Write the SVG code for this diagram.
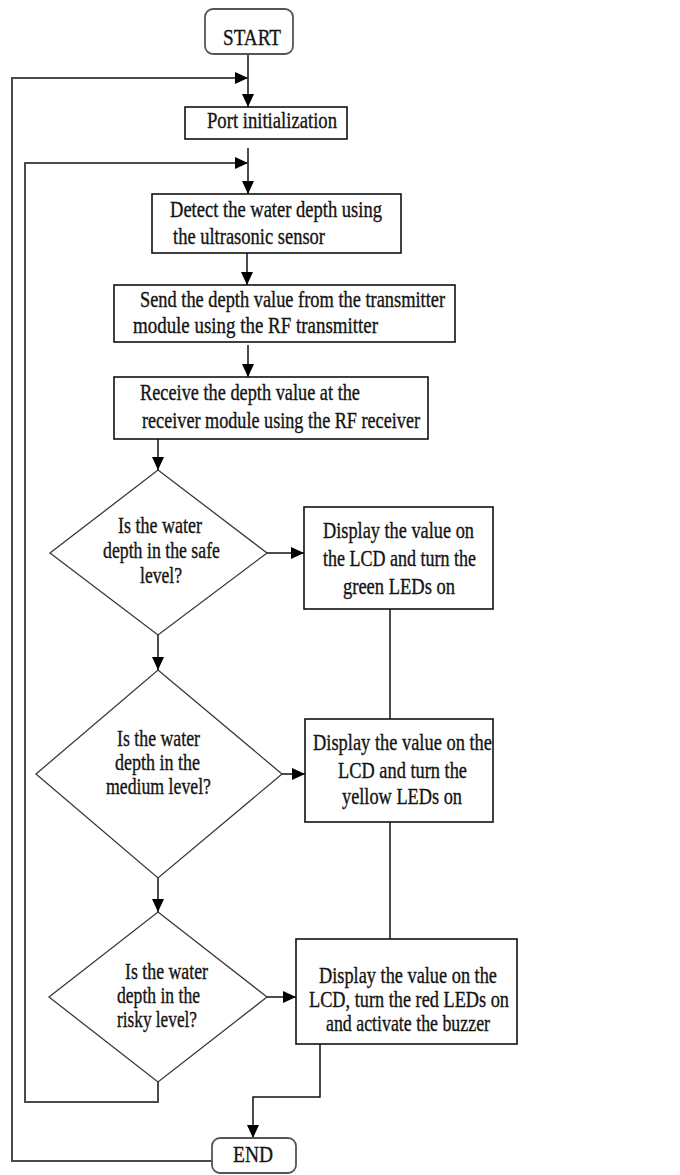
<svg xmlns="http://www.w3.org/2000/svg" width="680" height="1175" viewBox="0 0 680 1175">
  <style>
    .box { fill: #ffffff; stroke: #111111; stroke-width: 1.6; }
    .term { fill: #ffffff; stroke: #555555; stroke-width: 1.8; }
    .dec { fill: #ffffff; stroke: #3a3a3a; stroke-width: 1.3; }
    .lbl { font-family: "Liberation Serif", "Times New Roman", serif; font-size: 23px; fill: #141414; stroke: #141414; stroke-width: 0.35; }
    .flow { fill: none; stroke: #111111; stroke-width: 1.5; }
    .loop { fill: none; stroke: #4a4a4a; stroke-width: 2; }
  </style>
  <defs>
    <marker id="arrow" markerUnits="userSpaceOnUse" markerWidth="14" markerHeight="12" refX="13" refY="6" orient="auto">
      <path d="M0,0 L13,6 L0,12 z" fill="#000000"/>
    </marker>
  </defs>

  <!-- connectors -->
  <g id="connectors">
    <line class="flow" x1="248" y1="54" x2="248" y2="107" marker-end="url(#arrow)"/>
    <polyline class="loop" points="212,1161 12,1161 12,78 248,78" marker-end="url(#arrow)"/>
    <line class="flow" x1="248" y1="148" x2="248" y2="194" marker-end="url(#arrow)"/>
    <polyline class="loop" points="158,1082 158,1102 25,1102 25,163 248,163" marker-end="url(#arrow)"/>
    <line class="flow" x1="247" y1="253" x2="247" y2="285" marker-end="url(#arrow)"/>
    <line class="flow" x1="248" y1="345" x2="248" y2="377" marker-end="url(#arrow)"/>
    <line class="flow" x1="158" y1="439" x2="158" y2="470" marker-end="url(#arrow)"/>
    <line class="flow" x1="267" y1="553" x2="304" y2="553" marker-end="url(#arrow)"/>
    <line class="flow" x1="158" y1="635" x2="158" y2="670" marker-end="url(#arrow)"/>
    <line class="flow" x1="282" y1="774" x2="305" y2="774" marker-end="url(#arrow)"/>
    <line class="flow" x1="158" y1="878" x2="158" y2="912" marker-end="url(#arrow)"/>
    <line class="flow" x1="267" y1="997" x2="296" y2="997" marker-end="url(#arrow)"/>
    <line class="flow" x1="390" y1="609" x2="390" y2="719"/>
    <line class="flow" x1="390" y1="822" x2="390" y2="939"/>
    <polyline class="flow" points="320,1044 320,1097 253,1097 253,1138" marker-end="url(#arrow)"/>
  </g>

  <g id="start">
    <rect class="term" x="205" y="9" width="88" height="45" rx="8"/>
    <text class="lbl" x="223" y="45" textLength="58" lengthAdjust="spacingAndGlyphs">START</text>
  </g>

  <g id="port-init">
    <rect class="box" x="185" y="107" width="162" height="32"/>
    <text class="lbl" x="207" y="128" textLength="130" lengthAdjust="spacingAndGlyphs">Port  initialization</text>
  </g>

  <g id="detect">
    <rect class="box" x="152" y="194" width="249" height="59"/>
    <text class="lbl" x="170" y="217" textLength="212" lengthAdjust="spacingAndGlyphs">Detect the water depth using</text>
    <text class="lbl" x="173" y="244" textLength="152" lengthAdjust="spacingAndGlyphs">the ultrasonic sensor</text>
  </g>

  <g id="send">
    <rect class="box" x="114" y="285" width="341" height="57"/>
    <text class="lbl" x="140" y="307" textLength="305" lengthAdjust="spacingAndGlyphs">Send the depth value from the  transmitter</text>
    <text class="lbl" x="133" y="333" textLength="245" lengthAdjust="spacingAndGlyphs">module using the RF   transmitter</text>
  </g>

  <g id="receive">
    <rect class="box" x="114" y="377" width="314" height="62"/>
    <text class="lbl" x="140" y="400" textLength="220" lengthAdjust="spacingAndGlyphs">Receive the depth value at the</text>
    <text class="lbl" x="142" y="428" textLength="278" lengthAdjust="spacingAndGlyphs">receiver module using the RF receiver</text>
  </g>

  <g id="check-safe">
    <polygon class="dec" points="158,470 267,553 158,635 50,553"/>
    <text class="lbl" x="118" y="533" textLength="84" lengthAdjust="spacingAndGlyphs">Is the water</text>
    <text class="lbl" x="103" y="558" textLength="117" lengthAdjust="spacingAndGlyphs">depth in the safe</text>
    <text class="lbl" x="140" y="583" textLength="42" lengthAdjust="spacingAndGlyphs">level?</text>
  </g>

  <g id="show-green">
    <rect class="box" x="304" y="507" width="189" height="102"/>
    <text class="lbl" x="323" y="538" textLength="151" lengthAdjust="spacingAndGlyphs">Display the value on</text>
    <text class="lbl" x="323" y="566" textLength="153" lengthAdjust="spacingAndGlyphs">the LCD and turn the</text>
    <text class="lbl" x="343" y="594" textLength="112" lengthAdjust="spacingAndGlyphs">green LEDs on</text>
  </g>

  <g id="check-medium">
    <polygon class="dec" points="158,670 282,774 158,878 36,774"/>
    <text class="lbl" x="117" y="746" textLength="83" lengthAdjust="spacingAndGlyphs">Is the water</text>
    <text class="lbl" x="115" y="770" textLength="85" lengthAdjust="spacingAndGlyphs">depth in the</text>
    <text class="lbl" x="106" y="794" textLength="105" lengthAdjust="spacingAndGlyphs">medium level?</text>
  </g>

  <g id="show-yellow">
    <rect class="box" x="305" y="719" width="188" height="103"/>
    <text class="lbl" x="313" y="750" textLength="179" lengthAdjust="spacingAndGlyphs">Display the value on the</text>
    <text class="lbl" x="338" y="778" textLength="129" lengthAdjust="spacingAndGlyphs">LCD and turn the</text>
    <text class="lbl" x="342" y="804" textLength="120" lengthAdjust="spacingAndGlyphs">yellow LEDs on</text>
  </g>

  <g id="check-risky">
    <polygon class="dec" points="158,912 267,997 158,1082 49,997"/>
    <text class="lbl" x="125" y="979" textLength="83" lengthAdjust="spacingAndGlyphs">Is the water</text>
    <text class="lbl" x="117" y="1003" textLength="83" lengthAdjust="spacingAndGlyphs">depth in the</text>
    <text class="lbl" x="117" y="1027" textLength="80" lengthAdjust="spacingAndGlyphs">risky level?</text>
  </g>

  <g id="show-red">
    <rect class="box" x="296" y="939" width="221" height="105"/>
    <text class="lbl" x="319" y="983" textLength="178" lengthAdjust="spacingAndGlyphs">Display the value on the</text>
    <text class="lbl" x="309" y="1007" textLength="200" lengthAdjust="spacingAndGlyphs">LCD, turn the red LEDs on</text>
    <text class="lbl" x="326" y="1031" textLength="164" lengthAdjust="spacingAndGlyphs">and activate the buzzer</text>
  </g>

  <g id="end">
    <rect class="term" x="212" y="1138" width="84" height="35" rx="8"/>
    <text class="lbl" x="233" y="1162" textLength="40" lengthAdjust="spacingAndGlyphs">END</text>
  </g>
</svg>
